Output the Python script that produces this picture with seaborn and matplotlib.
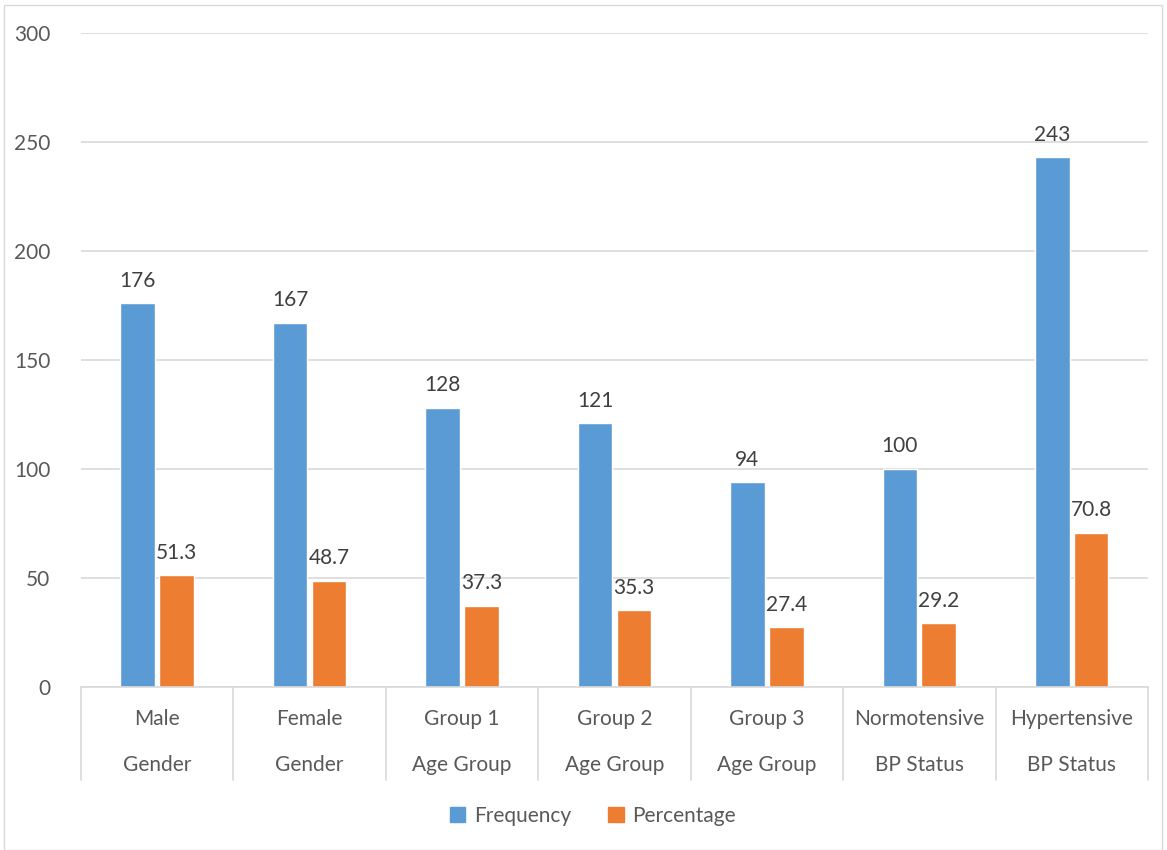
import matplotlib
matplotlib.use("Agg")
import matplotlib.pyplot as plt
import seaborn as sns
import pandas as pd
from matplotlib.patches import Rectangle
from matplotlib.lines import Line2D

categories = ["Male", "Female", "Group 1", "Group 2", "Group 3", "Normotensive", "Hypertensive"]
groups = ["Gender", "Gender", "Age Group", "Age Group", "Age Group", "BP Status", "BP Status"]
frequency = [176, 167, 128, 121, 94, 100, 243]
percentage = [51.3, 48.7, 37.3, 35.3, 27.4, 29.2, 70.8]
series = ["Frequency", "Percentage"]
yticks = [0, 50, 100, 150, 200, 250, 300]

sns.set_theme(style="white")
plt.rcParams['font.family'] = ['Lato', 'DejaVu Sans']

df = pd.DataFrame({
    "cat": categories * 2,
    "series": ["Frequency"] * len(categories) + ["Percentage"] * len(categories),
    "value": frequency + percentage,
})

fig = plt.figure(figsize=(11.67, 8.5), dpi=100)
ax = fig.add_axes([0.0694, 0.1918, 0.9143, 0.7694])

colors = {"Frequency": "#5B9BD5", "Percentage": "#ED7D31"}
sns.barplot(data=df, x="cat", y="value", hue="series", palette=colors,
            width=0.51, gap=0.11, ax=ax, legend=False, saturation=1)

fs = 15
text_col = "#404040"
for cont in ax.containers:
    labels = []
    for v in cont.datavalues:
        labels.append(f"{v:g}" if v != int(v) else f"{int(v)}")
    ax.bar_label(cont, labels=labels, padding=9, fontsize=fs, color=text_col)

ax.set_ylim(0, 300)
ax.set_xlim(-0.5, len(categories) - 0.5)
ax.set_yticks(yticks)
ax.set_yticklabels([str(t) for t in yticks], fontsize=fs, color="#595959")
ax.tick_params(axis="y", length=0, pad=22)
ax.yaxis.grid(True, color="#D9D9D9", linewidth=1.2)
ax.set_axisbelow(True)
ax.set_xticks([])
ax.set_xlabel("")
ax.set_ylabel("")
for s in ["top", "right", "left"]:
    ax.spines[s].set_visible(False)
ax.spines["bottom"].set_color("#D9D9D9")
ax.spines["bottom"].set_linewidth(1.2)

# two-level category axis
trans = ax.get_xaxis_transform()
sep_depth = 93 / 654  # in axes fraction
for i in range(len(categories) + 1):
    x = i - 0.5
    ax.add_line(Line2D([x, x], [0, -sep_depth], transform=trans, color="#D9D9D9",
                       linewidth=1.2, clip_on=False))
for i, (c, g) in enumerate(zip(categories, groups)):
    ax.text(i, -32 / 654, c, transform=trans, ha="center", va="center",
            fontsize=fs, color="#595959")
    ax.text(i, -78 / 654, g, transform=trans, ha="center", va="center",
            fontsize=fs, color="#595959")

# legend
handles = [Rectangle((0, 0), 1, 1, color=colors[s]) for s in series]
fig.legend(handles, series, loc="center", bbox_to_anchor=(0.508, 1 - 816 / 850),
           ncol=2, frameon=False, fontsize=fs, handlelength=0.75, handleheight=0.75,
           columnspacing=1.8, handletextpad=0.4, labelcolor="#595959")

# chart border
fig.patches.append(Rectangle((4 / 1167, 0), 1 - 9 / 1167, 1 - 5 / 850,
                             transform=fig.transFigure, fill=False,
                             edgecolor="#D9D9D9", linewidth=1))

fig.savefig("out.png", dpi=100)
